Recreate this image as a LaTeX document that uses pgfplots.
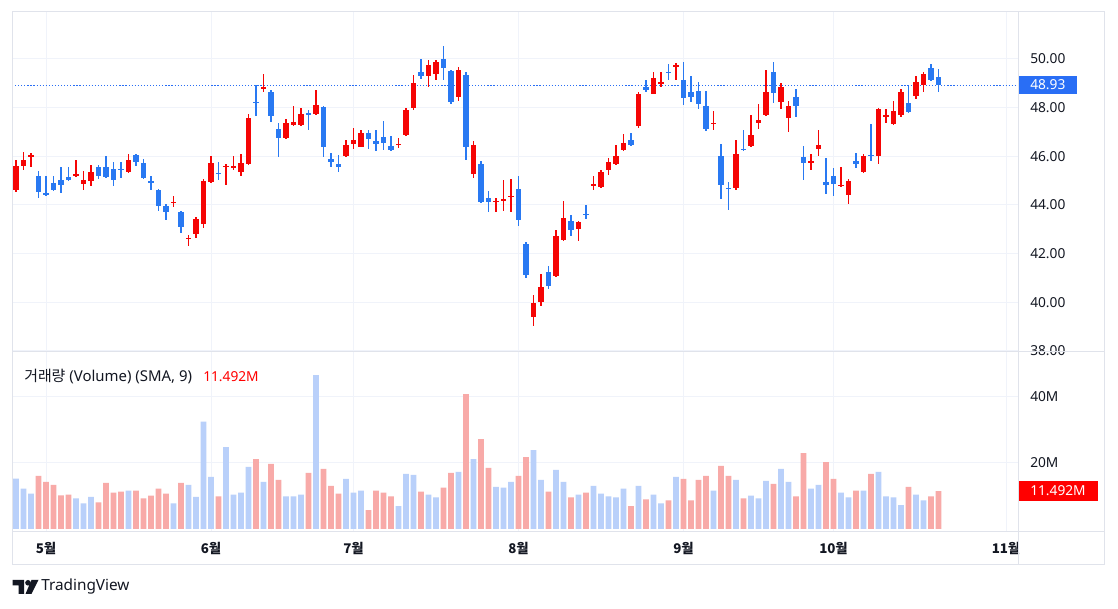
\documentclass[border=0pt]{standalone}
\usepackage{pgfplots}
\pgfplotsset{compat=1.18}
\usepackage{pgfplotstable}
\usepackage{fontspec}
\setmainfont{Noto Sans}
\newfontfamily\cjk{Noto Sans CJK KR}
\definecolor{candred}{RGB}{245,5,5}
\definecolor{candblue}{RGB}{41,121,242}
\definecolor{volred}{RGB}{248,170,168}
\definecolor{volblue}{RGB}{185,208,250}
\definecolor{gridc}{RGB}{240,243,250}
\definecolor{framec}{RGB}{224,227,235}
\definecolor{txt}{RGB}{19,23,34}
\definecolor{lastblue}{RGB}{41,110,245}

\pgfplotstableread{
i o h l c v
0 44.63 45.86 44.52 45.62 15.3
1 45.59 46.19 45.42 45.86 12.2
2 46.00 46.14 45.55 46.04 10.7
3 45.21 45.41 44.29 44.52 16.1
4 44.51 45.21 44.38 44.42 14.3
5 44.90 45.18 44.56 44.63 13.4
6 45.04 45.55 44.49 44.84 10.2
7 45.14 45.55 44.97 45.04 10.4
8 45.18 45.86 45.15 45.29 9.3
9 44.85 45.41 44.60 45.04 7.8
10 44.97 45.66 44.79 45.37 9.7
11 45.58 45.66 45.07 45.18 8.1
12 45.58 46.00 45.11 45.14 14.0
13 45.49 45.77 44.77 45.01 11.0
14 45.49 45.78 45.11 45.45 11.3
15 45.34 46.11 45.33 45.86 11.6
16 46.07 46.08 45.59 45.75 11.6
17 45.74 45.90 45.08 45.10 9.3
18 45.00 45.21 44.60 44.89 10.1
19 44.63 44.66 43.74 43.95 12.2
20 43.97 44.05 43.40 43.70 10.7
21 44.08 44.36 43.92 44.14 7.8
22 43.73 43.77 42.85 43.08 14.0
23 42.61 42.78 42.30 42.65 13.4
24 42.81 43.51 42.63 43.44 9.7
25 43.22 45.07 43.04 45.00 32.5
26 44.93 46.00 44.90 45.73 15.8
27 45.32 45.77 45.04 45.27 9.9
28 45.55 45.68 44.84 45.62 24.8
29 45.52 46.00 45.45 45.62 10.4
30 45.34 46.10 45.21 45.74 11.0
31 45.67 47.75 45.64 47.59 18.8
32 48.25 48.95 47.67 48.19 21.2
33 48.77 49.37 48.63 48.85 14.3
34 48.63 48.74 47.41 47.64 19.7
35 47.12 47.37 45.96 46.74 14.9
36 46.74 47.55 46.73 47.38 9.9
37 47.27 48.05 47.26 47.42 9.9
38 47.27 47.97 47.26 47.75 10.4
39 47.79 47.89 47.07 47.70 17.0
40 47.73 48.71 47.71 48.12 46.6
41 48.01 48.05 45.96 46.38 18.2
42 45.90 46.14 45.55 45.77 13.1
43 45.70 46.05 45.34 45.55 10.7
44 46.00 46.68 45.99 46.48 15.2
45 46.51 47.16 46.30 46.68 11.0
46 46.38 47.10 46.37 46.96 11.6
47 46.96 47.07 46.30 46.71 5.7
48 46.64 47.10 46.21 46.51 11.6
49 46.79 47.47 46.27 46.55 11.0
50 46.44 46.85 46.21 46.27 9.9
51 46.48 46.75 46.34 46.52 6.9
52 46.86 47.99 46.85 47.92 16.7
53 47.99 49.36 47.92 49.01 16.4
54 49.47 50.01 49.18 49.29 11.3
55 49.29 49.97 48.84 49.77 10.4
56 49.38 49.97 49.15 49.88 9.6
57 50.00 50.52 49.15 49.62 12.5
58 49.52 49.56 48.16 48.25 17.0
59 48.42 49.67 48.26 49.56 17.3
60 49.36 49.47 45.84 46.38 40.9
61 45.26 46.62 45.12 46.48 21.2
62 45.70 45.79 44.08 44.11 27.2
63 44.29 44.56 43.70 44.11 18.5
64 44.11 44.29 43.70 44.18 12.8
65 44.15 45.01 43.74 44.25 12.5
66 44.33 45.07 43.70 44.37 14.3
67 44.66 45.18 43.15 43.37 16.1
68 42.41 42.48 41.00 41.14 21.8
69 39.40 40.32 39.01 39.97 23.9
70 40.00 41.18 39.84 40.63 14.9
71 41.26 41.51 40.55 40.66 11.3
72 41.07 42.99 41.04 42.74 17.9
73 42.58 44.15 42.51 43.47 14.3
74 43.33 43.60 42.74 42.96 9.6
75 43.03 43.36 42.53 43.30 10.4
76 43.64 43.99 43.44 43.60 11.0
77 44.77 45.21 44.63 44.88 13.1
78 44.73 45.45 44.70 45.34 10.7
79 45.42 45.93 45.22 45.77 9.9
80 45.67 46.48 45.66 46.00 9.6
81 46.25 46.92 46.23 46.55 12.2
82 46.68 46.96 46.41 46.45 6.9
83 47.23 48.63 47.16 48.58 13.1
84 48.85 49.15 48.64 48.71 9.0
85 48.56 49.45 48.55 49.22 10.4
86 48.96 49.45 48.84 49.07 7.8
87 49.48 49.81 49.12 49.44 8.7
88 49.66 49.84 49.12 49.77 15.8
89 49.15 49.86 48.12 48.40 15.2
90 48.66 49.29 48.22 48.44 8.7
91 48.70 49.05 47.95 48.15 14.9
92 48.08 48.67 47.03 47.12 16.1
93 47.32 47.88 47.07 47.38 11.6
94 46.00 46.52 44.26 44.81 19.1
95 44.70 44.93 43.81 44.66 16.1
96 44.68 46.66 44.63 46.11 14.9
97 46.32 47.07 46.21 46.27 9.3
98 46.41 47.70 46.40 46.89 10.1
99 47.37 48.16 47.12 47.51 9.3
100 47.68 49.56 47.67 48.64 14.6
101 49.48 49.86 48.19 48.60 13.7
102 48.23 49.01 47.95 48.85 18.2
103 47.58 48.29 46.99 48.05 14.3
104 48.44 48.77 47.60 48.05 9.9
105 45.96 46.44 45.01 45.71 23.0
106 45.71 46.11 45.45 45.82 12.2
107 46.32 47.07 46.00 46.48 13.4
108 44.93 45.92 44.47 44.81 20.3
109 45.18 45.51 44.38 44.86 15.2
110 44.77 45.55 44.75 44.84 11.0
111 44.40 45.07 44.05 45.00 9.6
112 45.82 46.14 45.52 45.68 11.6
113 45.37 46.10 45.30 46.00 11.6
114 46.07 47.34 45.79 46.00 16.7
115 46.00 47.99 45.70 47.93 17.3
116 47.60 47.96 47.37 47.71 9.9
117 47.34 48.26 47.29 47.88 9.6
118 47.71 48.77 47.62 48.63 7.2
119 48.19 48.90 47.79 47.81 12.8
120 48.47 49.29 48.37 49.04 10.4
121 48.95 49.48 48.64 49.40 8.7
122 49.63 49.79 49.11 49.15 9.9
123 49.26 49.59 48.63 48.93 11.492
}\candles

\begin{document}
\begin{tikzpicture}
\begin{scope}[x=0.75pt,y=-0.75pt,shift={(0pt,456.75pt)}]
\path[use as bounding box, fill=white] (0,0) rectangle (1118,609);
\end{scope}

% ---------- price pane ----------
\begin{axis}[at={(9pt,447.75pt)}, anchor=north west, scale only axis,
  width=754.5pt, height=255pt,
  xmin=-0.5333, xmax=133.6, ymin=37.957, ymax=51.932,
  axis line style={draw=none}, major tick length=0pt,
  xtick={4,26,45,67,89,109,132}, xticklabels={},
  ytick={38,40,42,44,46,48,50},
  yticklabels={38.00,40.00,42.00,44.00,46.00,48.00,50.00},
  yticklabel pos=right,
  yticklabel style={anchor=west, inner sep=0pt, xshift=9pt, text=txt,
    font=\fontsize{10.3pt}{12pt}\selectfont},
  grid=major, major grid style={gridc, line width=0.75pt},
  clip=false]
\addplot[lastblue, line width=0.75pt, dash pattern=on 0.9pt off 1.4pt, forget plot]
  coordinates {(-0.5333,48.93) (133.6,48.93)};
% wicks
\addplot[draw=none, mark=none, forget plot,
  restrict expr to domain={\thisrow{c}-\thisrow{o}}{0:100},
  error bars/.cd, y dir=both, y explicit, error mark=none,
  error bar style={draw=candred, line width=0.8pt}]
  table[x=i, y expr={(\thisrow{h}+\thisrow{l})/2}, y error expr={(\thisrow{h}-\thisrow{l})/2}] {\candles};
\addplot[draw=none, mark=none, forget plot,
  restrict expr to domain={\thisrow{c}-\thisrow{o}}{-100:0},
  error bars/.cd, y dir=both, y explicit, error mark=none,
  error bar style={draw=candblue, line width=0.8pt}]
  table[x=i, y expr={(\thisrow{h}+\thisrow{l})/2}, y error expr={(\thisrow{h}-\thisrow{l})/2}] {\candles};
% bodies
\addplot[draw=none, mark=none, forget plot,
  restrict expr to domain={\thisrow{c}-\thisrow{o}}{0:100},
  error bars/.cd, y dir=both, y explicit, error mark=none,
  error bar style={draw=candred, line width=3.9pt, line cap=butt}]
  table[x=i, y expr={(\thisrow{o}+\thisrow{c})/2}, y error expr={abs(\thisrow{c}-\thisrow{o})/2}] {\candles};
\addplot[draw=none, mark=none, forget plot,
  restrict expr to domain={\thisrow{c}-\thisrow{o}}{-100:0},
  error bars/.cd, y dir=both, y explicit, error mark=none,
  error bar style={draw=candblue, line width=3.9pt, line cap=butt}]
  table[x=i, y expr={(\thisrow{o}+\thisrow{c})/2}, y error expr={abs(\thisrow{c}-\thisrow{o})/2}] {\candles};
\node[fill=lastblue, text=white, anchor=west, inner xsep=9pt, inner ysep=0pt,
  minimum height=13.5pt, font=\fontsize{10.3pt}{12pt}\selectfont]
  at (axis cs:133.6,48.93) {48.93};
\end{axis}

% ---------- volume pane ----------
\begin{axis}[at={(9pt,192.75pt)}, anchor=north west, scale only axis,
  width=754.5pt, height=135pt,
  xmin=-0.5333, xmax=133.6, ymin=-0.909, ymax=53.64,
  axis line style={draw=none}, major tick length=0pt,
  xtick={4,26,45,67,89,109,132},
  xticklabels={5월,6월,7월,8월,9월,10월,11월},
  xticklabel style={anchor=center, yshift=-12pt, text=txt,
    font=\cjk\bfseries\fontsize{10pt}{12pt}\selectfont},
  ytick={20,40}, yticklabels={20M,40M},
  yticklabel pos=right,
  yticklabel style={anchor=west, inner sep=0pt, xshift=9pt, text=txt,
    font=\fontsize{10.3pt}{12pt}\selectfont},
  grid=major, major grid style={gridc, line width=0.75pt},
  clip=false]
\addplot[ybar, bar shift=0pt, bar width=4.4pt, fill=volblue, draw=none, forget plot,
  restrict expr to domain={\thisrow{c}-\thisrow{o}}{0:100}]
  table[x=i, y=v] {\candles};
\addplot[ybar, bar shift=0pt, bar width=4.4pt, fill=volred, draw=none, forget plot,
  restrict expr to domain={\thisrow{c}-\thisrow{o}}{-100:0}]
  table[x=i, y=v] {\candles};
\node[fill=red, text=white, anchor=west, inner xsep=9pt, inner ysep=0pt,
  minimum height=15pt, font=\bfseries\fontsize{10.3pt}{12pt}\selectfont]
  at (axis cs:133.6,11.492) {11.492M};
\end{axis}

\begin{scope}[x=0.75pt,y=-0.75pt,shift={(0pt,456.75pt)}]
% ---------- frame ----------
\draw[framec, line width=0.75pt] (12,12) rectangle (1104,565);
\draw[framec, line width=0.75pt] (12,352) -- (1104,352);
\draw[framec, line width=0.75pt] (12,532) -- (1104,532);
\draw[framec, line width=0.75pt] (1018,12) -- (1018,565);

% ---------- legend ----------
\node[anchor=west, inner sep=0pt, text=txt, font=\fontsize{11.2pt}{13pt}\selectfont]
  at (24,377) {{\cjk 거래량} (Volume) (SMA, 9)};
\node[anchor=west, inner sep=0pt, text=red, font=\fontsize{10.3pt}{12pt}\selectfont]
  at (203,377) {11.492M};

% ---------- logo ----------
\fill[txt] (12.5,580) -- (24,580) -- (24,594) -- (18.5,594) -- (18.5,585.5) -- (12.5,585.5) -- cycle;
\fill[txt] (28,582.8) circle (2.8);
\fill[txt] (31.5,580) -- (38.5,580) -- (31.5,594) -- (25.5,594) -- cycle;
\node[anchor=west, inner sep=0pt, text=txt, font=\fontsize{11.5pt}{13pt}\selectfont]
  at (41,587) {TradingView};
\end{scope}
\end{tikzpicture}
\end{document}
